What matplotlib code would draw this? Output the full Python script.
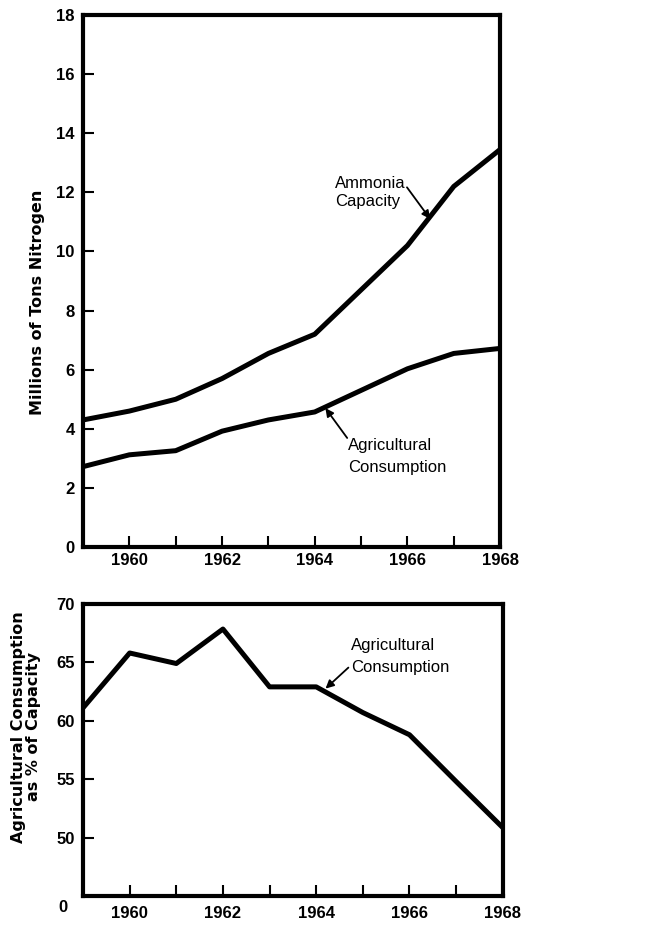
import numpy as np
import matplotlib.pyplot as plt

plt.rcParams['font.family'] = ['Liberation Sans', 'DejaVu Sans']

# top panel data (millions of tons nitrogen)
years = [1959, 1960, 1961, 1962, 1963, 1964, 1965, 1966, 1967, 1968]
ammonia_capacity = [4.3, 4.6, 5.0, 5.7, 6.55, 7.2, 8.7, 10.2, 12.2, 13.45]
agri_consumption = [2.72, 3.12, 3.26, 3.92, 4.3, 4.57, 5.3, 6.03, 6.55, 6.72]

# bottom panel data (agricultural consumption as % of capacity)
agri_pct = [61.1, 65.8, 64.9, 67.85, 62.9, 62.9, 60.7, 58.8, 54.8, 50.85]

year_labels = ['1960', '1962', '1964', '1966', '1968']
top_yticks = [0, 2, 4, 6, 8, 10, 12, 14, 16, 18]
bot_yticks = [50, 55, 60, 65, 70]

LW = 3.6
tick_font = dict(fontsize=12, fontweight='bold')
label_font = dict(fontsize=11.5, fontweight='bold', family='DejaVu Sans')
arrow = dict(arrowstyle='-|>', color='black', lw=1.3, mutation_scale=12,
             shrinkA=0, shrinkB=0)

fig = plt.figure(figsize=(6.61, 9.25), dpi=100)
ax1 = fig.add_axes([0.1256, 0.4086, 0.631, 0.5752])
ax2 = fig.add_axes([0.1256, 0.0314, 0.635, 0.3157])

for ax, xpad in ((ax1, 4), (ax2, 7)):
    for s in ax.spines.values():
        s.set_linewidth(3)
    ax.set_xlim(1959, 1968)
    ax.set_xticks(range(1960, 1968), minor=True)
    ax.set_xticks([1960, 1962, 1964, 1966, 1968])
    ax.set_xticklabels(year_labels, **tick_font)
    ax.tick_params(axis='x', which='both', direction='in', length=8, width=1.5, pad=xpad)
    ax.tick_params(axis='y', direction='in', length=8, width=1.5, pad=6)

# top panel
ax1.plot(years, ammonia_capacity, color='black', lw=LW, solid_joinstyle='round')
ax1.plot(years, agri_consumption, color='black', lw=LW, solid_joinstyle='round')
ax1.set_ylim(0, 18)
ax1.set_yticks(top_yticks)
ax1.set_yticklabels([str(v) for v in top_yticks], **tick_font)
ax1.set_ylabel('Millions of Tons Nitrogen', va='center', **label_font)
ax1.yaxis.set_label_coords(-0.108, 0.46)

ax1.text(1964.44, 12.0, 'Ammonia\nCapacity', fontsize=12, linespacing=1.25,
         ha='left', va='center')
ax1.annotate('', xy=(1966.49, 11.1), xytext=(1965.99, 12.17), arrowprops=arrow)
ax1.text(1964.72, 3.06, 'Agricultural\nConsumption', fontsize=12, linespacing=1.6,
         ha='left', va='center')
ax1.annotate('', xy=(1964.23, 4.7), xytext=(1964.7, 3.69), arrowprops=arrow)

# bottom panel
ax2.plot(years, agri_pct, color='black', lw=LW, solid_joinstyle='round')
ax2.set_ylim(45, 70)
ax2.set_yticks(bot_yticks)
ax2.set_yticklabels([str(v) for v in bot_yticks], **tick_font)
ax2.text(-0.059, -0.038, '0', transform=ax2.transAxes, ha='left', va='center', **tick_font)
ax2.set_ylabel('Agricultural Consumption\nas % of Capacity', va='center',
               linespacing=0.95, **label_font)
ax2.yaxis.set_label_coords(-0.136, 0.579)

ax2.text(1964.74, 65.53, 'Agricultural\nConsumption', fontsize=12, linespacing=1.6,
         ha='left', va='center')
ax2.annotate('', xy=(1964.2, 62.75), xytext=(1964.69, 64.55), arrowprops=arrow)

fig.savefig('out.png', dpi=100)
